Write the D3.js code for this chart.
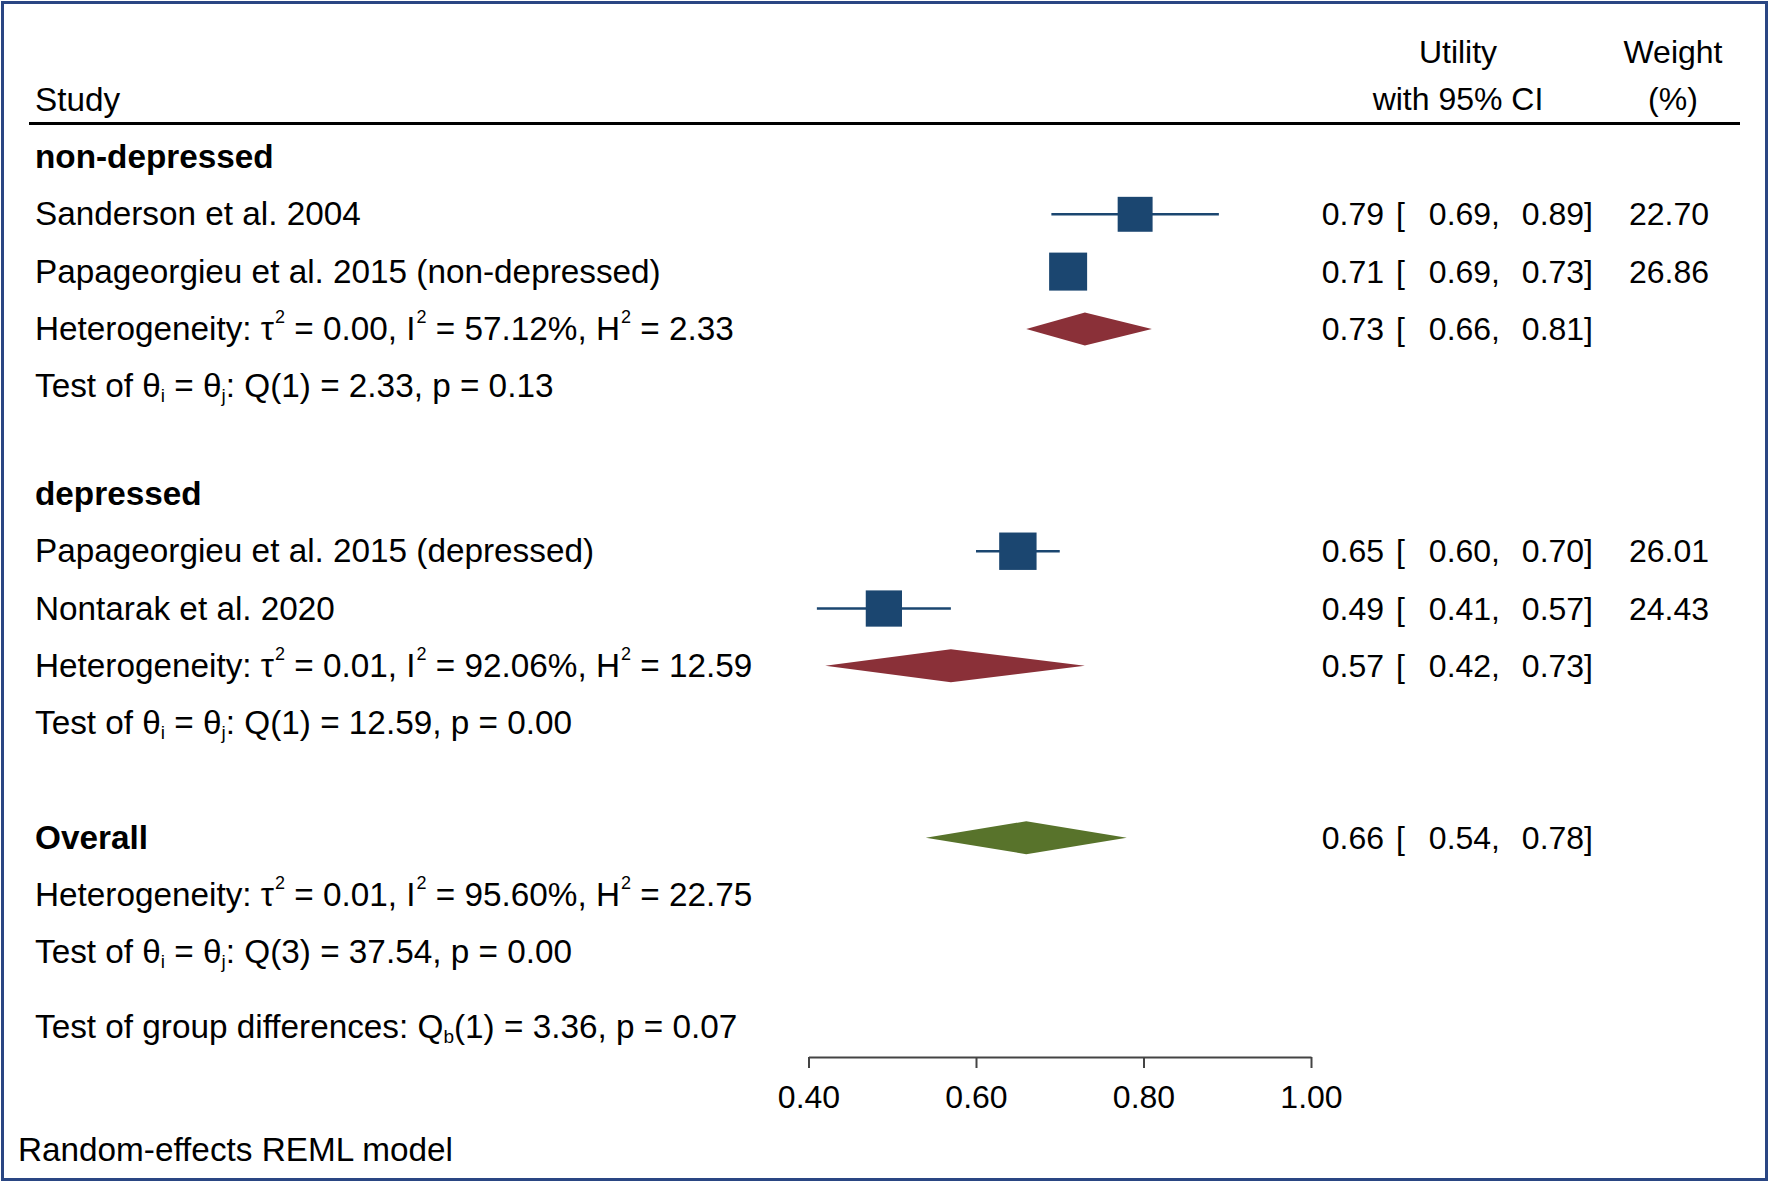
<!DOCTYPE html>
<html>
<head>
<meta charset="utf-8">
<script src="https://cdn.jsdelivr.net/npm/d3@7"></script>
<style>
  html, body { margin: 0; padding: 0; background: #fff; }
  svg { display: block; font-family: "Liberation Sans", Arial, sans-serif; }
  text { fill: #000; }
</style>
</head>
<body>
<svg id="chart" width="1770" height="1184"></svg>
<script>
// study level data
const studies = ["Sanderson et al. 2004", "Papageorgieu et al. 2015 (non-depressed)",
                 "Papageorgieu et al. 2015 (depressed)", "Nontarak et al. 2020"];
const studyGroup = [0, 0, 1, 1];
const est = [0.79, 0.71, 0.65, 0.49];
const lo = [0.69, 0.69, 0.60, 0.41];
const hi = [0.89, 0.73, 0.70, 0.57];
const weights = [22.70, 26.86, 26.01, 24.43];

// subgroup summaries
const groups = ["non-depressed", "depressed"];
const groupEst = [0.73, 0.57];
const groupLo = [0.66, 0.42];
const groupHi = [0.81, 0.73];
const groupTau2 = ["0.00", "0.01"];
const groupI2 = ["57.12%", "92.06%"];
const groupH2 = ["2.33", "12.59"];
const groupQ = ["Q(1) = 2.33, p = 0.13", "Q(1) = 12.59, p = 0.00"];

// overall
const overall = { est: 0.66, lo: 0.54, hi: 0.78, tau2: "0.01", i2: "95.60%", h2: "22.75", q: "Q(3) = 37.54, p = 0.00" };
const groupDiff = { stat: "(1) = 3.36, p = 0.07" };

const xTicks = [0.40, 0.60, 0.80, 1.00];

const width = 1770, height = 1184;
const svg = d3.select("#chart");

// frame
svg.append("rect")
    .attr("x", 2.5).attr("y", 2.5)
    .attr("width", width - 6).attr("height", height - 7)
    .attr("fill", "none")
    .attr("stroke", "#2a4683")
    .attr("stroke-width", 3);

const x = d3.scaleLinear().domain([0.4, 1.0]).range([808.5, 1311]);
// row position in "row units" -> pixels
const y = d3.scaleLinear().domain([0, 1]).range([157, 214.3]);
const box = d3.scaleSqrt().domain([0, 26.86]).range([0, 38]);

const fs = 32;     // right columns, axis
const fsL = 33.3;  // left study column
const baseOff = 11; // text center -> baseline

const navy = "#1b4670", red = "#8a3038", green = "#58732b";

// header
const head = svg.append("g").attr("font-size", fs);
head.append("text").attr("x", 35).attr("y", 100 + baseOff).attr("font-size", fsL).text("Study");
head.append("text").attr("x", 1458).attr("y", 52 + baseOff).attr("text-anchor", "middle").text("Utility");
head.append("text").attr("x", 1458).attr("y", 99 + baseOff).attr("text-anchor", "middle").text("with 95% CI");
head.append("text").attr("x", 1673).attr("y", 52 + baseOff).attr("text-anchor", "middle").text("Weight");
head.append("text").attr("x", 1673).attr("y", 99 + baseOff).attr("text-anchor", "middle").text("(%)");
svg.append("line")
    .attr("x1", 29).attr("x2", 1740)
    .attr("y1", 123.5).attr("y2", 123.5)
    .attr("stroke", "#000").attr("stroke-width", 3);

// build rows
const rows = [];
const groupStart = [0, 5.88];
groups.forEach((g, gi) => {
    let r = groupStart[gi];
    rows.push({ type: "group", r: r++, label: g });
    studies.forEach((s, i) => {
        if (studyGroup[i] === gi)
            rows.push({ type: "study", r: r++, label: s, est: est[i], lo: lo[i], hi: hi[i], w: weights[i] });
    });
    rows.push({ type: "sum", r: r++, color: red, est: groupEst[gi], lo: groupLo[gi], hi: groupHi[gi],
                het: [groupTau2[gi], groupI2[gi], groupH2[gi]] });
    rows.push({ type: "test", r: r++, q: groupQ[gi] });
});
rows.push({ type: "group", r: 11.88, label: "Overall", est: overall.est, lo: overall.lo, hi: overall.hi, overall: true });
rows.push({ type: "het", r: 12.88, het: [overall.tau2, overall.i2, overall.h2] });
rows.push({ type: "test", r: 13.88, q: overall.q });
rows.push({ type: "diff", r: 15.19 });

const txt = svg.append("g").attr("font-size", fs);
const left = svg.append("g").attr("font-size", fsL);

function sup(t, s, after) {
    t.append("tspan").attr("font-size", 18).attr("dx", 1).attr("dy", -17).text(s);
    t.append("tspan").attr("dy", 17).text(after);
}

function hetText(h) {
    const t = left.append("text").attr("x", 35);
    t.append("tspan").text("Heterogeneity: τ");
    sup(t, "2", " = " + h[0] + ", I");
    sup(t, "2", " = " + h[1] + ", H");
    sup(t, "2", " = " + h[2]);
    return t;
}

function sub(t, s, after) {
    t.append("tspan").attr("font-size", 19).attr("dy", 5).text(s);
    t.append("tspan").attr("dy", -5).text(after);
}

function ciText(yc, e, l, h, w) {
    const yb = yc + baseOff;
    txt.append("text").attr("x", 1384).attr("y", yb).attr("text-anchor", "end").text(e.toFixed(2));
    txt.append("text").attr("x", 1396).attr("y", yb).text("[");
    txt.append("text").attr("x", 1500).attr("y", yb).attr("text-anchor", "end").text(l.toFixed(2) + ",");
    txt.append("text").attr("x", 1593).attr("y", yb).attr("text-anchor", "end").text(h.toFixed(2) + "]");
    if (w !== undefined)
        txt.append("text").attr("x", 1709).attr("y", yb).attr("text-anchor", "end").text(w.toFixed(2));
}

function diamond(yc, e, l, h, color) {
    const hh = 16.5;
    svg.append("path")
        .attr("d", `M${x(l)},${yc} L${x(e)},${yc - hh} L${x(h)},${yc} L${x(e)},${yc + hh} Z`)
        .attr("fill", color);
}

rows.forEach(d => {
    const yc = y(d.r);
    if (d.type === "group") {
        left.append("text").attr("x", 35).attr("y", yc + baseOff)
            .attr("font-weight", "bold").text(d.label);
        if (d.overall) {
            diamond(yc, d.est, d.lo, d.hi, green);
            ciText(yc, d.est, d.lo, d.hi);
        }
    } else if (d.type === "study") {
        left.append("text").attr("x", 35).attr("y", yc + baseOff).text(d.label);
        svg.append("line")
            .attr("x1", x(d.lo)).attr("x2", x(d.hi))
            .attr("y1", yc).attr("y2", yc)
            .attr("stroke", navy).attr("stroke-width", 2.5);
        const s = box(d.w);
        svg.append("rect")
            .attr("x", x(d.est) - s / 2).attr("y", yc - s / 2)
            .attr("width", s).attr("height", s)
            .attr("fill", navy);
        ciText(yc, d.est, d.lo, d.hi, d.w);
    } else if (d.type === "sum") {
        hetText(d.het).attr("y", yc + baseOff);
        diamond(yc, d.est, d.lo, d.hi, d.color);
        ciText(yc, d.est, d.lo, d.hi);
    } else if (d.type === "het") {
        hetText(d.het).attr("y", yc + baseOff);
    } else if (d.type === "test") {
        const t = left.append("text").attr("x", 35).attr("y", yc + baseOff);
        t.append("tspan").text("Test of θ");
        sub(t, "i", " = θ");
        sub(t, "j", ": " + d.q);
    } else if (d.type === "diff") {
        const t = left.append("text").attr("x", 35).attr("y", yc + baseOff);
        t.append("tspan").text("Test of group differences: Q");
        sub(t, "b", groupDiff.stat);
    }
});

// x axis
const axis = svg.append("g")
    .attr("transform", "translate(0,1057)")
    .call(d3.axisBottom(x).tickValues(xTicks).tickFormat(d3.format(".2f")).tickSize(11).tickSizeOuter(0));
axis.select(".domain").attr("stroke", "#444").attr("stroke-width", 2);
axis.selectAll(".tick line").attr("stroke", "#444").attr("stroke-width", 2);
axis.selectAll(".tick text")
    .attr("font-size", fs)
    .attr("font-family", "Liberation Sans, Arial, sans-serif")
    .attr("fill", "#000")
    .attr("dy", 0)
    .attr("y", 51);

svg.append("text")
    .attr("x", 18).attr("y", 1150 + baseOff)
    .attr("font-size", fsL)
    .text("Random-effects REML model");
</script>
</body>
</html>
